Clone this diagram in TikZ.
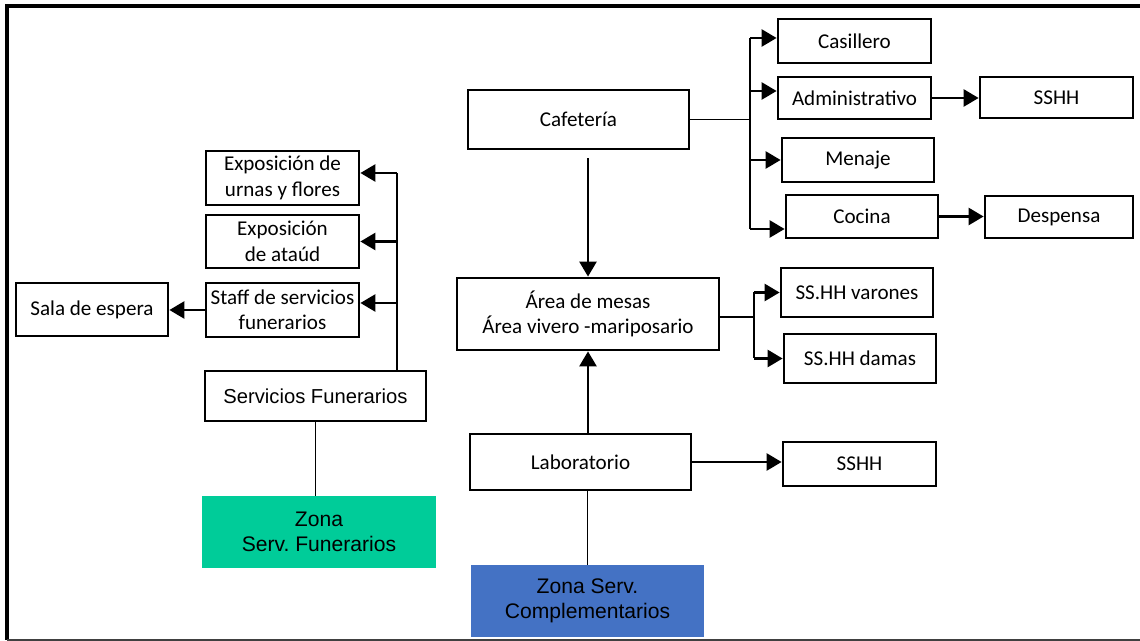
\documentclass[tikz,border=0pt]{standalone}
\usepackage{fontspec}
\setmainfont{Carlito}
\newfontfamily\arialfont{Liberation Sans}
\usetikzlibrary{arrows.meta}

\definecolor{zonegreen}{HTML}{00CC99}
\definecolor{zoneblue}{HTML}{4472C4}

\begin{document}
\frenchspacing
\begin{tikzpicture}[x=0.02cm,y=-0.02cm,
  box/.style={draw,line width=1.6pt,align=center,inner sep=1pt,
    font=\fontsize{12}{14.5}\selectfont},
  zone/.style={align=center,inner sep=1pt,minimum width=4.68cm,minimum height=1.44cm,
    font=\arialfont\fontsize{12}{14.5}\selectfont},
  flow/.style={-{Triangle[length=3mm,width=3.4mm]},line width=1.5pt},
  link/.style={line width=0.7pt}]
\useasboundingbox (0,0) rectangle (1140,641);
\draw[line width=1.8pt] (1140,6) -- (7,6) -- (7,640);
\draw[line width=0.9pt,black!75] (7,640) -- (1140,640);
% funeral services side
\node[box,minimum width=3.06cm,minimum height=1.08cm] (urnas) at (282.5,178) {Exposición de\\urnas y flores};
\node[box,minimum width=3.06cm,minimum height=1.06cm] (ataud) at (282.5,241.5) {Exposición\\de ataúd};
\node[box,minimum width=3.06cm,minimum height=1.08cm] (staff) at (282.5,310) {Staff de servicios\\funerarios};
\node[box,minimum width=3.04cm,minimum height=1.06cm] (sala) at (92,309.5) {Sala de espera};
\node[box,minimum width=4.42cm,minimum height=1.0cm,font=\arialfont\fontsize{11.5}{14}\selectfont] (servicios) at (315.5,396) {Servicios Funerarios};
\node[zone,fill=zonegreen] (zonafun) at (319,532) {Zona\\Serv. Funerarios};
\coordinate (fbus) at (397,173);
\draw[link] (fbus) -- (fbus |- servicios.north);
\draw[flow] (fbus) -- (fbus -| urnas.east);
\draw[flow] (ataud.east -| fbus) -- (ataud.east);
\draw[flow] ([yshift=0.14cm]staff.east -| fbus) -- ([yshift=0.14cm]staff.east);
\draw[flow] (staff.west) -- (staff.west -| sala.east);
\draw[link] (servicios.south) -- (servicios.south |- zonafun.north);
% complementary services side
\node[box,minimum width=4.42cm,minimum height=1.18cm] (cafe) at (578.5,119.5) {Cafetería};
\node[box,minimum width=3.06cm,minimum height=0.88cm] (casillero) at (854.5,41) {Casillero};
\node[box,minimum width=3.06cm,minimum height=0.84cm] (admin) at (854.5,98) {Administrativo};
\node[box,minimum width=3.06cm,minimum height=0.82cm] (sshhadm) at (1056.5,97.5) {SSHH};
\node[box,minimum width=3.04cm,minimum height=0.88cm] (menaje) at (858,160) {Menaje};
\node[box,minimum width=3.04cm,minimum height=0.86cm] (cocina) at (862,216.5) {Cocina};
\node[box,minimum width=2.96cm,minimum height=0.84cm] (despensa) at (1059,217) {Despensa};
\node[box,minimum width=5.24cm,minimum height=1.44cm] (mesas) at (588,314) {Área de mesas\\Área vivero -mariposario};
\node[box,minimum width=3.04cm,minimum height=0.98cm] (varones) at (857,292.5) {SS.HH varones};
\node[box,minimum width=3.04cm,minimum height=0.98cm] (damas) at (860,358.5) {SS.HH damas};
\node[box,minimum width=4.42cm,minimum height=1.12cm] (lab) at (580.5,462) {Laboratorio};
\node[box,minimum width=3.06cm,minimum height=0.88cm] (sshhlab) at (859.5,464) {SSHH};
\node[zone,fill=zoneblue,minimum width=4.66cm] (zonacom) at (587.5,601) {Zona Serv.\\Complementarios};
\coordinate (ctop) at (750,38);
\coordinate (cbot) at (750,229);
\draw[link] (cafe.east) -- (cafe.east -| ctop);
\draw[link] (ctop) -- (cbot);
\draw[flow] (ctop) -- (ctop -| casillero.west);
\draw[flow] ([yshift=0.14cm]admin.west -| ctop) -- ([yshift=0.14cm]admin.west);
\draw[flow] (menaje.west -| ctop) -- (menaje.west);
\draw[flow] (cbot) -- (cbot -| cocina.west);
\draw[flow] (admin.east) -- (admin.east -| sshhadm.west);
\draw[flow] (cocina.east) -- (cocina.east -| despensa.west);
\draw[flow,shorten <=0.16cm] (cafe.south -| mesas.north) -- (mesas.north);
\coordinate (abus) at (754,317);
\draw[link] (abus -| mesas.east) -- (abus);
\draw[link] (varones.west -| abus) -- (damas.west -| abus);
\draw[flow] (varones.west -| abus) -- (varones.west);
\draw[flow] (damas.west -| abus) -- (damas.west);
\draw[flow] (lab.north -| mesas.south) -- (mesas.south);
\draw[flow] (lab.east) -- (lab.east -| sshhlab.west);
\draw[link] (lab.south -| zonacom.north) -- (zonacom.north);
\end{tikzpicture}
\end{document}
